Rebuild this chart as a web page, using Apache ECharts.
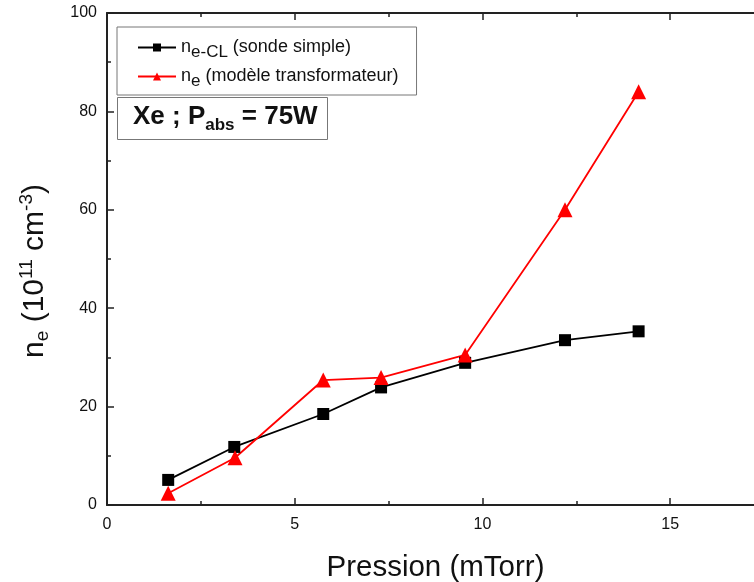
<!DOCTYPE html>
<html><head><meta charset="utf-8">
<script src="https://cdn.jsdelivr.net/npm/echarts@6/dist/echarts.min.js"></script>
<style>html,body{margin:0;padding:0;background:#fff;overflow:hidden;width:754px;height:582px}#c{width:776px;height:582px}</style>
</head><body><div id="c"></div>
<script>
const pressureCL = [1.63, 3.39, 5.76, 7.30, 9.54, 12.2, 14.16];
const neCL = [5.1, 11.8, 18.5, 23.9, 28.9, 33.5, 35.3];
const pressureTr = [1.63, 3.41, 5.76, 7.30, 9.54, 12.2, 14.16];
const neTr = [2.4, 9.6, 25.4, 25.9, 30.5, 60.0, 84.0];
const seriesNames = ['ne-CL', 'ne'];
const xTicks = {min: 0, max: 17.5, interval: 5};
const yTicks = {min: 0, max: 100, interval: 20};

const font = 'Liberation Sans, Arial, sans-serif';
const chart = echarts.init(document.getElementById('c'));
const axisCommon = {
  axisLine: {show: true, lineStyle: {color: '#222', width: 2}},
  axisTick: {show: true, inside: true, length: 7, lineStyle: {color: '#222', width: 1.5}},
  minorTick: {show: true, splitNumber: 2, length: 4, lineStyle: {color: '#222', width: 1.5}},
  splitLine: {show: false}
};
chart.setOption({
  animation: false,
  backgroundColor: '#fff',
  grid: {left: 107, right: 12, top: 13, bottom: 77, containLabel: false, outerBoundsMode: 'none'},
  title: {
    text: '{b|Xe ; P}{s|abs}{b| = 75W}',
    left: 117, top: 98,
    borderColor: '#777', borderWidth: 1,
    padding: [6, 10, 6, 16],
    textStyle: {
      rich: {
        b: {fontFamily: font, fontWeight: 'bold', fontSize: 26, color: '#111', lineHeight: 30, verticalAlign: 'top'},
        s: {fontFamily: font, fontWeight: 'bold', fontSize: 17, color: '#111', lineHeight: 30, verticalAlign: 'bottom', padding: [14, 0, 0, 0]}
      }
    }
  },
  legend: {
    orient: 'vertical',
    left: 117, top: 27,
    borderColor: '#777', borderWidth: 1,
    padding: [7, 18, 5, 20],
    itemWidth: 38, itemHeight: 10, itemGap: 2,
    data: seriesNames,
    formatter: function (name) {
      if (name === 'ne-CL') return '{n|n}{sub|e-CL}{t| (sonde simple)}';
      return '{n|n}{sub|e}{t| (modèle transformateur)}';
    },
    textStyle: {
      rich: {
        n: {fontFamily: font, fontSize: 18, color: '#111', lineHeight: 24},
        t: {fontFamily: font, fontSize: 18, color: '#111', lineHeight: 24},
        sub: {fontFamily: font, fontSize: 17, color: '#111', lineHeight: 16, padding: [10, 0, 0, 0]}
      }
    }
  },
  xAxis: [{
    type: 'value', min: xTicks.min, max: xTicks.max, interval: xTicks.interval,
    position: 'bottom',
    ...axisCommon,
    axisLabel: {color: '#111', fontFamily: font, fontSize: 16, margin: 12, showMaxLabel: false},
    name: 'Pression (mTorr)',
    nameLocation: 'middle', nameGap: 48,
    nameTextStyle: {fontFamily: font, fontSize: 29.5, color: '#111'}
  }, {
    type: 'value', min: xTicks.min, max: xTicks.max, interval: xTicks.interval,
    position: 'top',
    ...axisCommon,
    axisLabel: {show: false}
  }],
  yAxis: [{
    type: 'value', min: yTicks.min, max: yTicks.max, interval: yTicks.interval,
    position: 'left',
    ...axisCommon,
    axisLabel: {color: '#111', fontFamily: font, fontSize: 16, margin: 10},
    name: '{n|n}{sub|e}{t| (10}{sup|11}{t| cm}{sup|-3}{t|)}',
    nameLocation: 'middle', nameGap: 52, nameRotate: 90,
    nameTextStyle: {
      padding: [0, 24, 0, 0],
      rich: {
        n: {fontFamily: font, fontSize: 30, color: '#111', lineHeight: 40},
        t: {fontFamily: font, fontSize: 30, color: '#111', lineHeight: 40},
        sub: {fontFamily: font, fontSize: 19, color: '#111', lineHeight: 40, padding: [16, 0, 0, 0]},
        sup: {fontFamily: font, fontSize: 19, color: '#111', lineHeight: 40, padding: [0, 0, 16, 0]}
      }
    }
  }],
  series: [{
    name: 'ne-CL', type: 'line',
    data: pressureCL.map((x, i) => [x, neCL[i]]),
    symbol: 'rect', symbolSize: 12,
    itemStyle: {color: '#000'},
    lineStyle: {color: '#000', width: 1.8}
  }, {
    name: 'ne', type: 'line',
    data: pressureTr.map((x, i) => [x, neTr[i]]),
    symbol: 'triangle', symbolSize: 15,
    itemStyle: {color: '#ff0000'},
    lineStyle: {color: '#ff0000', width: 1.8}
  }]
});
</script></body></html>
